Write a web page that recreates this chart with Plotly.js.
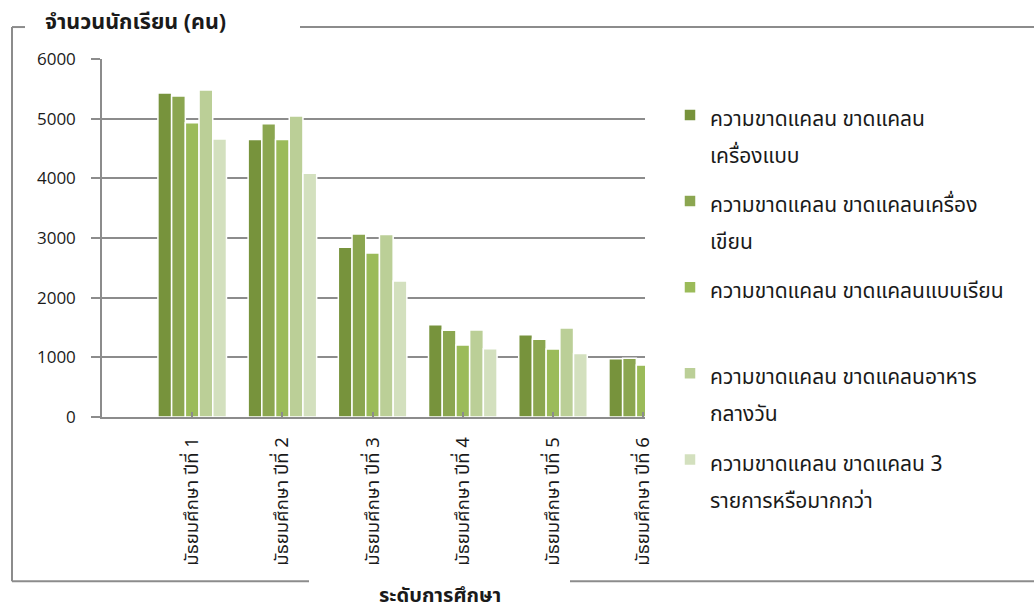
<!DOCTYPE html>
<html>
<head>
<meta charset="utf-8">
<script src="https://cdn.plot.ly/plotly-3.0.1.min.js"></script>
<style>
  html, body { margin: 0; padding: 0; background: #ffffff; }
  #chart { width: 1034px; height: 610px; }
</style>
</head>
<body>
<div id="chart"></div>
<script>
// ---------- data ----------
const categories = [
  'มัธยมศึกษา ปีที่ 1',
  'มัธยมศึกษา ปีที่ 2',
  'มัธยมศึกษา ปีที่ 3',
  'มัธยมศึกษา ปีที่ 4',
  'มัธยมศึกษา ปีที่ 5',
  'มัธยมศึกษา ปีที่ 6'
];
const seriesNames = [
  ['ความขาดแคลน ขาดแคลน', 'เครื่องแบบ'],
  ['ความขาดแคลน ขาดแคลนเครื่อง', 'เขียน'],
  ['ความขาดแคลน ขาดแคลนแบบเรียน', ' '],
  ['ความขาดแคลน ขาดแคลนอาหาร', 'กลางวัน'],
  ['ความขาดแคลน ขาดแคลน 3', 'รายการหรือมากกว่า']
];
const uniformShortage    = [5430, 4650, 2845, 1545, 1380, 975];
const stationeryShortage = [5380, 4915, 3065, 1455, 1305, 985];
const textbookShortage   = [4930, 4650, 2750, 1205, 1140, 870];
const lunchShortage      = [5480, 5045, 3060, 1460, 1490, null];
const threeOrMore        = [4660, 4085, 2280, 1145, 1065, null];
const yTickValues = [0, 1000, 2000, 3000, 4000, 5000, 6000];
const yTickLabels = ['0', '1000', '2000', '3000', '4000', '5000', '6000'];
const yTitle = 'จำนวนนักเรียน (คน)';
const xTitle = 'ระดับการศึกษา';

// ---------- styling ----------
const colors = ['#77933C', '#8BA650', '#9BBB59', '#BBCF97', '#D3E0BE'];
const values = [uniformShortage, stationeryShortage, textbookShortage, lunchShortage, threeOrMore];
const THAI = 'Leelawadee UI, Tahoma, "Noto Sans Thai", "Noto Sans", sans-serif';
const frameColor = '#8c8c8c';
const textColor = '#1a1a1a';

// plot area in pixels (used for converting frame / label positions)
const W = 1034, H = 610;
const L = 102, R = 645, T = 59, B = 417.5;
const px = v => (v - L) / (R - L);
const py = v => (B - v) / (B - T);

const traces = values.map((vals, i) => ({
  type: 'bar',
  x: categories,
  y: vals,
  name: seriesNames[i].map(s => '<span style="font-size:21px">' + s + '</span>').join('<br>'),
  legendgroup: 'g' + i,
  marker: { color: colors[i], line: { color: '#ffffff', width: 1.5 } },
  hoverinfo: 'y'
}));

const frameLine = (x0, y0, x1, y1) => ({
  type: 'line', xref: 'paper', yref: 'paper',
  x0: px(x0), y0: py(y0), x1: px(x1), y1: py(y1),
  line: { color: frameColor, width: 2 }
});

const layout = {
  width: W, height: H,
  margin: { l: L, r: W - R, t: T, b: H - B, pad: 0 },
  paper_bgcolor: '#ffffff',
  plot_bgcolor: '#ffffff',
  barmode: 'group',
  bargap: 0.24,
  bargroupgap: 0,
  showlegend: true,
  title: {
    text: yTitle,
    xref: 'container', yref: 'container',
    x: 45 / W, xanchor: 'left',
    y: 1 - 21 / H, yanchor: 'middle',
    font: { family: THAI, size: 21.5, color: textColor, weight: 'bold' }
  },
  xaxis: {
    type: 'category',
    range: [-1.0, 5.02],
    tickangle: -90,
    ticks: 'inside', ticklen: 5, tickwidth: 1.5, tickcolor: frameColor,
    ticklabelstandoff: 11,
    showline: true, linecolor: frameColor, linewidth: 1.5,
    showgrid: false,
    tickfont: { family: THAI, size: 18.5, color: textColor },
    fixedrange: true
  },
  yaxis: {
    range: [0, 6000],
    tickvals: yTickValues,
    ticktext: yTickLabels,
    ticks: 'outside', ticklen: 9, tickwidth: 1.5, tickcolor: frameColor,
    ticklabelstandoff: 12,
    showline: true, linecolor: frameColor, linewidth: 1.5,
    showgrid: true, gridcolor: frameColor, gridwidth: 1.5,
    zeroline: false,
    tickfont: { family: '"Open Sans", "Noto Sans", sans-serif', size: 17, color: textColor },
    fixedrange: true
  },
  legend: {
    x: px(670), xanchor: 'left',
    y: py(90), yanchor: 'top',
    valign: 'top',
    tracegroupgap: 9,
    traceorder: 'grouped',
    maxheight: 560,
    bgcolor: 'rgba(0,0,0,0)',
    font: { family: THAI, size: 28.5, color: textColor }
  },
  annotations: [{
    text: xTitle,
    xref: 'paper', yref: 'paper',
    x: px(440), y: py(597), xanchor: 'center', yanchor: 'middle',
    showarrow: false,
    font: { family: THAI, size: 20, color: textColor, weight: 'bold' }
  }],
  shapes: [
    frameLine(12, 27, 25, 27),
    frameLine(300, 27, 1034, 27),
    frameLine(12, 27, 12, 582),
    frameLine(12, 582, 309, 582),
    frameLine(570, 582, 1034, 582)
  ]
};

Plotly.newPlot('chart', traces, layout, { displayModeBar: false });
</script>
</body>
</html>
